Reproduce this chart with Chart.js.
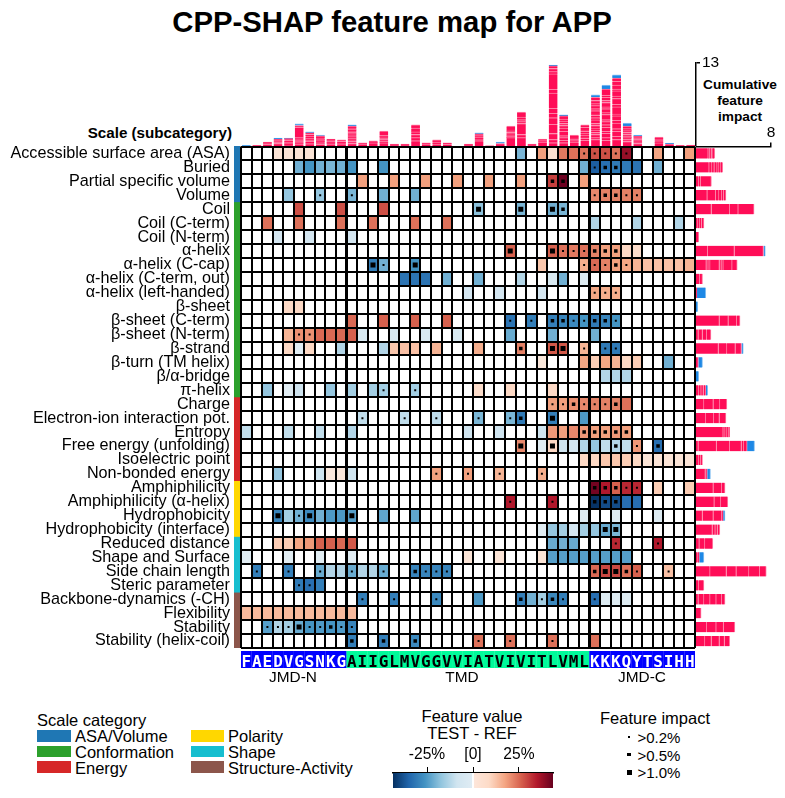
<!DOCTYPE html>
<html>
<head>
<meta charset="utf-8">
<title>CPP-SHAP feature map for APP</title>
<script src="https://cdn.jsdelivr.net/npm/chart.js@4/dist/chart.umd.min.js"></script>
<style>
  html, body { margin: 0; padding: 0; background: #fff; }
  body { position: relative; width: 785px; height: 798px; overflow: hidden; font-family: 'Liberation Sans', Arial, sans-serif; color: #000; }
  canvas { position: absolute; display: block; }
  .txt { position: absolute; white-space: nowrap; line-height: 1; font-size: 16.5px; }
  .mid { transform: translate(-50%, -50%); }
  .left { transform: translateY(-50%); }
  .swatch, .dot { position: absolute; }
  .dot { background: #000; }
</style>
</head>
<body>
<div class="txt mid" style="left:392px;top:22px;font-size:29.3px;font-weight:bold">CPP-SHAP feature map for APP</div>
<div class="txt" style="right:553px;top:125px;font-size:15.2px;font-weight:bold">Scale (subcategory)</div>
<div class="txt mid" style="left:740px;top:85px;font-size:13.7px;font-weight:bold">Cumulative</div>
<div class="txt mid" style="left:740px;top:101px;font-size:13.7px;font-weight:bold">feature</div>
<div class="txt mid" style="left:740px;top:117px;font-size:13.7px;font-weight:bold">impact</div>

<canvas id="topChart" width="544" height="96" style="left:241px;top:50px"></canvas>
<canvas id="rightChart" width="89" height="528" style="left:696px;top:120px"></canvas>
<canvas id="stripChart" width="6" height="502" style="left:234px;top:146px"></canvas>
<canvas id="heatChart" width="700" height="515" style="left:0;top:140px"></canvas>
<canvas id="seqChart" width="454" height="17" style="left:241px;top:651px"></canvas>
<canvas id="barChart" width="176" height="45" style="left:385px;top:745px"></canvas>

<div class="txt mid" style="left:293px;top:677px;font-size:15.4px">JMD-N</div>
<div class="txt mid" style="left:462px;top:677px;font-size:15.4px">TMD</div>
<div class="txt mid" style="left:642px;top:677px;font-size:15.4px">JMD-C</div>

<div id="catLegend"></div>
<div class="txt left" style="left:37px;top:720px">Scale category</div>

<div class="txt mid" style="left:472px;top:716px">Feature value</div>
<div class="txt mid" style="left:472px;top:733px">TEST - REF</div>

<div class="txt mid" style="left:655px;top:718px">Feature impact</div>
<div id="impactLegend"></div>

<script>
//Secuencia de APP dividida en sus tres dominios
const residues = 'FAEDVGSNKGAIIGLMVGGVVIATVIVITLVMLKKKQYTSIHH'.split('');
const domainNames = ['JMD-N', 'TMD', 'JMD-C'];
const domainSizes = [10, 23, 10];

//Subcategorias de las escalas, de arriba hacia abajo
const scaleNames = [
  'Accessible surface area (ASA)', 'Buried', 'Partial specific volume', 'Volume',
  'Coil', 'Coil (C-term)', 'Coil (N-term)', 'α-helix', 'α-helix (C-cap)',
  'α-helix (C-term, out)', 'α-helix (left-handed)', 'β-sheet', 'β-sheet (C-term)',
  'β-sheet (N-term)', 'β-strand', 'β-turn (TM helix)', 'β/α-bridge', 'π-helix',
  'Charge', 'Electron-ion interaction pot.', 'Entropy', 'Free energy (unfolding)',
  'Isoelectric point', 'Non-bonded energy', 'Amphiphilicity', 'Amphiphilicity (α-helix)',
  'Hydrophobicity', 'Hydrophobicity (interface)', 'Reduced distance', 'Shape and Surface',
  'Side chain length', 'Steric parameter', 'Backbone-dynamics (-CH)', 'Flexibility',
  'Stability', 'Stability (helix-coil)'
];

//Categorias y cuantas subcategorias tiene cada una
const categoryNames = ['ASA/Volume', 'Conformation', 'Energy', 'Polarity', 'Shape', 'Structure-Activity'];
const categorySizes = [4, 14, 6, 4, 4, 4];
const categoryColors = ['#1f77b4', '#2ca02c', '#d62728', '#ffd700', '#17becf', '#8c564b'];

//Valor de cada celda por fila: [residuo, valor %, nivel de impacto]
const featureValues = [
  [[4,6],[5,6],[6,6],[7,6],[27,-20],[29,18],[30,7],[31,23],[32,24],[33,24,1],[34,28,1],[35,28,1],[36,24,1],[37,38,1],[40,17],[43,18]],
  [[6,-21],[7,-26],[8,-21],[9,-20],[10,-21],[11,-26],[14,-26],[33,-21],[34,-36,1],[35,-33,2],[36,-31,2],[37,-31],[38,-32],[40,-21]],
  [[12,18],[15,18],[18,18],[21,18],[24,18],[27,18],[30,30,2],[31,43,2],[33,18]],
  [[5,-17],[8,-17,1],[11,-20,1],[14,-21],[17,-21],[34,21,1],[35,22,2],[36,22,2],[37,22,1],[38,22,1]],
  [[6,28],[10,28],[14,28],[23,-18,3],[27,-20,3],[30,-21,3],[31,-20,2]],
  [[3,24],[6,24],[10,24],[13,24],[17,24],[20,24],[34,-13],[38,-13],[42,-13]],
  [[4,-8],[7,-8],[11,-8]],
  [[26,26,3],[30,26,3],[31,24,1],[32,23,1],[33,24,1],[34,22,2],[35,18,2],[36,18,2],[37,9],[38,8]],
  [[13,-30,3],[14,-21,1],[17,-26,3],[29,12],[33,16,1],[34,25,1],[35,22,1],[36,18,2],[37,17,1],[38,15],[39,13],[40,13],[41,13],[42,13],[43,15]],
  [[16,-32],[17,-32],[18,-32],[20,-21],[23,-21],[27,-13],[30,-7],[31,-21],[33,-6]],
  [[22,-8],[25,-8],[29,-8],[34,17,1],[35,16,1],[36,16,1]],
  [[5,9],[6,9]],
  [[11,25],[14,26],[17,26],[20,26],[26,-32,1],[28,-30,1],[30,-30,2],[31,-29,2],[32,-28,1],[33,-26,1],[34,-31,2],[35,-29,2],[36,-26,1]],
  [[5,15],[6,20,1],[7,20,1],[8,25],[9,25],[10,25],[11,26],[12,-7],[15,-7],[18,-7],[21,-7],[26,-22],[30,-21],[34,-21]],
  [[5,9],[6,-5],[7,9],[10,-13],[14,-13],[15,12],[16,13],[17,13],[19,15],[23,16],[27,22,2],[30,27,3],[31,27,3],[33,15,1],[35,-31,1],[36,-31,1]],
  [[29,5],[33,17],[34,11],[35,17],[36,15],[37,9],[38,11],[41,-21]],
  [[35,-13],[36,-13],[37,-13]],
  [[3,-17],[5,-5],[6,-9],[9,-17],[11,-15],[13,-15],[14,-15,1],[17,-15,1],[23,8],[26,9],[30,9]],
  [[30,18,1],[31,18,1],[32,20,2],[33,21,1],[34,22,1],[35,22,1],[36,22,2],[37,24]],
  [[12,-11,1],[16,-11,1],[19,-11,1],[23,-20,1],[26,-20,1],[27,-31,2],[30,-30,3],[33,-25]],
  [[1,-11],[5,-11],[8,-11],[11,-13],[22,-9],[25,-9],[29,-9],[30,19],[31,18],[32,21],[33,19,2],[34,18,2],[35,18,2],[36,19,2],[37,18,2]],
  [[27,21,3],[29,-5],[30,9,3],[31,-9],[32,-8],[33,-13],[34,-17],[35,-11],[36,-13,2],[37,-11],[38,19,1],[40,-33,2]],
  [[33,9],[34,9],[35,12],[36,12],[37,11],[38,9],[39,6],[40,6],[41,6],[42,6],[43,6]],
  [[4,-17],[8,-9],[9,5],[10,5],[11,-9],[19,18,1],[22,18,1],[25,15,1],[29,16,1]],
  [[34,42,2],[35,35,2],[36,26,2],[37,33,1],[38,33,1],[40,11],[43,11]],
  [[26,35,1],[30,35,1],[34,-43,2],[35,-39,2],[36,-39,2],[37,-33],[38,-33]],
  [[4,-29,3],[5,-15],[6,-21,1],[7,-28,3],[8,-21],[9,-25],[10,-25],[11,-24,3],[14,-23],[17,-23],[33,-6],[36,-6],[40,-6]],
  [[29,-5],[30,-17],[31,-15],[32,-8],[33,-15],[34,-17],[35,-22,3],[36,-20,3]],
  [[4,11],[5,11],[6,17],[7,19],[8,26],[9,26],[10,25],[11,27],[30,-22],[31,-21],[32,-22],[36,33,1],[40,35,1]],
  [[1,-5],[5,-5],[8,-5],[11,-5],[22,6],[25,6],[29,6],[30,-24],[31,-24],[32,-24],[33,-24],[34,-24],[35,-24],[36,-24],[37,-24]],
  [[2,-30,1],[5,-30,1],[8,-22,1],[9,-13],[10,-13],[11,-22,1],[12,-13],[13,-13],[14,-22,1],[17,-29,2],[18,-29,1],[19,-29,1],[20,-29,1],[34,25,2],[35,29,3],[36,29,3],[37,24,2],[38,26,1],[41,13,1]],
  [[6,-31,1],[7,-33,1],[8,-30]],
  [[12,-30,1],[15,-30,1],[19,-28,1],[23,-25],[27,-30,2],[28,-21],[29,-15,1],[30,-28,2],[31,-30,1],[34,-33,1],[35,-6],[36,-6],[37,-6]],
  [[1,14],[2,14],[3,14],[4,14],[5,14],[6,14],[7,14],[8,14],[9,14],[10,14],[11,14]],
  [[3,-24,1],[4,-13,1],[5,-15,1],[6,-22,3],[7,-26,1],[8,-25,1],[9,-26,2],[10,-25,1],[11,-29,1]],
  [[11,-30,2],[14,-30,2],[17,-28,2],[23,24,1],[26,24,1],[30,24,1],[34,24]]
];

//Impacto positivo acumulado por residuo, cada numero es un tramo de la barra
const topSegments = [
  [], [.1], [.25,.2,.15], [.4,.15,.2,.1,.2], [.15,.2,.15,.1,.3,.15,.1],
  [.3,.2,.25,.1,.2,.25,1.6,.3], [.35,.4,.1,.3,.4,.25,.25], [.25,.1,.3,.15,.2,.25,.2,.15],
  [.3,.2,.2,.2,.2], [.2,.25,.25,.25], [.4,.3,.2,.25,.3,.25,.2,.2,.25,.2,.25,.3],
  [.3,.2], [.5,.3], [.5,.2,.3,.2,.25,.2,.7], [.15,.15], [.15,.15], [.8,.5,.5,.4,.6,.5],
  [.3,.2], [.3,.3,.35], [.25,.25], [], [.15,.15], [.8,.3,.25,.25,.3], [.05], [.4],
  [1.3,.2,.2,.2,.2,.2,.2,.6], [1.3,.5,1.7,.3,.3,.4,.8], [.15,.15], [.6,.2,.3],
  [.5,.5,.95,1.45,1,.7,.8,2.35,.6,2.4,.35,.5,.4], [.5,.4,.4,.3,.7,.5,.4,.3,.4,.3,.5],
  [.6,.2,.25,.2,.45], [.9,.3,.2,.3,.3,.3,.2,.4,.4],
  [1,.3,.5,.3,.4,.2,.5,.3,.6,.3,.4,.2,.5,.3,.5,.3,.5,.5],
  [.9,.4,.7,.3,.6,.4,.5,.3,.8,.3,.6,.3,.7,.3,.5,.3,1],
  [1,.5,.8,.4,.9,.4,.7,.3,1.1,.4,.9,.4,.8,.3,.6,.6,.5],
  [.7,.3,.3,.2,.3,.3,.3,.3,.4], [.4,.2,.2,.2,.2,.15,.15], [], [.5,.3,.3,.3], [.3], [.1], [.15]
];
//Impacto negativo acumulado por residuo
const topNegative = [.1,0,0,.2,.1,.25,.15,.1,0,0,.2,0,0,0,0,0,0,0,0,0,0,0,.15,0,.2,0,0,0,0,.15,.15,0,0,.4,.6,.5,.5,.2,0,0,.15,0,0];

//Impacto positivo acumulado por escala
const rightSegments = [
  [1.3,.15,.2,.15,.2], [1.4,.3,.25,.3,.2,.2,.2], [.3,.2,1.15], [1.2,.9,.35,.3,.2,.25],
  [1.65,1.95,.9,1.7], [.2,.2,.2,.25], [.3], [1.25,2.85,3.1], [1.1,.2,.2,1,.2,.2,.95,.55],
  [.4,.3], [.1], [], [2.5,.95,.9,.35], [.25,.45,.45,.45], [2.4,.9,.9,.65], [.25], [],
  [.3,.25,.25,.25], [.85,1,.7,.75], [1.05,.85,.6,.7], [2.9,.2,.2,.15,.15],
  [.25,1.95,1.4,1.25,.25,.35], [.3,.2,.2], [1,.2], [1.85,.9,.35], [1.95,.7,.75],
  [.7,1.15,.9,.15], [1.75,.3,.25,.25], [.35,.6,.85], [.2,.15], [1.5,1.75,1.05,1.35,1.15,.7],
  [.3,.55], [.25,.6,.65,.65,.6,.35], [.55], [1.15,1,.8,1.2], [.95,.7,.85,.55,.55]
];
//Impacto negativo acumulado por escala
const rightNegative = [0,0,0,0,0,0,0,.2,0,0,.95,.2,0,0,.2,.45,.3,.2,0,0,0,.8,0,.35,0,0,.2,0,0,.5,0,0,0,0,0,0];

//Ticks y leyendas
const topAxisTicks = [13];
const rightAxisTicks = [8];
const valueTicks = [-25, 0, 25];
const valueLimit = 43.5;
const impactLabels = ['>0.2%', '>0.5%', '>1.0%'];
const impactDotSizes = [2, 3.5, 5];

//Mapa de color RdBu invertido, de -valueLimit a +valueLimit
const colorStops = ['#053061', '#2166ac', '#4393c3', '#92c5de', '#d1e5f0', '#f7f7f7', '#fddbc7', '#f4a582', '#d6604d', '#b2182b', '#67001f'];

const SHAP_RED = '#ff0d57';
const SHAP_RED_PALE = '#ff7fa5';
const SHAP_BLUE = '#1e88e5';
const SHAP_BLUE_PALE = '#8cc4f2';

Chart.defaults.font.family = "'Liberation Sans', Arial, sans-serif";
Chart.defaults.color = '#000';
Chart.defaults.animation = false;
Chart.defaults.responsive = false;
Chart.defaults.events = [];
Chart.defaults.plugins.legend.display = false;
Chart.defaults.plugins.tooltip.enabled = false;

function hexToRgb(hex) {
  return [1, 3, 5].map(function (i) { return parseInt(hex.substr(i, 2), 16); });
}

//Color interpolado para un valor en %
function valueColor(value) {
  var t = (Math.max(-valueLimit, Math.min(valueLimit, value)) + valueLimit) / (2 * valueLimit) * (colorStops.length - 1);
  var i = Math.min(Math.floor(t), colorStops.length - 2);
  var a = hexToRgb(colorStops[i]);
  var b = hexToRgb(colorStops[i + 1]);
  var c = a.map(function (v, j) { return Math.round(v + (b[j] - v) * (t - i)); });
  return 'rgb(' + c.join(',') + ')';
}

//Quita el margen que Chart.js reserva para la mitad de la primera y ultima etiqueta
function noPadding(scale) {
  scale.paddingTop = 0;
  scale.paddingBottom = 0;
  scale.paddingLeft = 0;
  scale.paddingRight = 0;
}

//Fuerza el tamano reservado por un eje
function fixedWidth(size) { return function (scale) { scale.width = size; noPadding(scale); }; }
function fixedHeight(size) { return function (scale) { scale.height = size; noPadding(scale); }; }
function onlyTicks(values) {
  return function (scale) { scale.ticks = values.map(function (v) { return { value: v }; }); };
}

//Mapa de calor: una barra flotante por celda y un cuadrado negro segun el impacto
var cells = [];
var cellColors = [];
var dots = [];
var dotRadius = [];
featureValues.forEach(function (row, r) {
  row.forEach(function (cell) {
    cells.push({ x: cell[0] - 0.5, y: [r, r + 1] });
    cellColors.push(valueColor(cell[1]));
    if (cell[2]) {
      dots.push({ x: cell[0] - 0.5, y: r + 0.5 });
      dotRadius.push(impactDotSizes[cell[2] - 1] * Math.SQRT1_2);
    }
  });
});

//Lineas gruesas en los limites de la TMD
var domainEdges = [domainSizes[0], domainSizes[0] + domainSizes[1]];

new Chart(document.getElementById('heatChart'), {
  data: {
    datasets: [{
      type: 'bar',
      data: cells,
      backgroundColor: cellColors,
      barThickness: 454 / residues.length,
      order: 2
    }, {
      type: 'scatter',
      data: dots,
      pointStyle: 'rect',
      pointRadius: dotRadius,
      pointBackgroundColor: '#000',
      pointBorderWidth: 0,
      order: 1
    }]
  },
  options: {
    layout: { padding: { top: 6.5, bottom: 7, right: 5 } },
    scales: {
      x: {
        type: 'linear', min: 0, max: residues.length, position: 'bottom', offset: false,
        afterFit: fixedHeight(0),
        ticks: { display: false, stepSize: 1, autoSkip: false },
        border: { display: false },
        grid: {
          z: 1, color: '#000', drawTicks: false, offset: false,
          lineWidth: function (ctx) { return ctx.tick && domainEdges.indexOf(ctx.tick.value) >= 0 ? 3 : 2; }
        }
      },
      y: {
        type: 'linear', min: 0, max: scaleNames.length, reverse: true, position: 'left',
        afterFit: fixedWidth(0),
        ticks: { display: false, stepSize: 1, autoSkip: false },
        border: { display: false },
        grid: { z: 1, color: '#000', lineWidth: 2, drawTicks: false }
      },
      yNames: {
        type: 'category', labels: scaleNames, offset: true, position: 'left',
        afterFit: fixedWidth(241),
        border: { display: false },
        grid: { display: false, drawTicks: false },
        ticks: { autoSkip: false, padding: 11, font: { size: 16.2 }, color: '#000' }
      }
    }
  }
});

//Franja de color de las categorias
new Chart(document.getElementById('stripChart'), {
  type: 'bar',
  data: {
    labels: [''],
    datasets: categorySizes.map(function (n, i) {
      return { data: [n], backgroundColor: categoryColors[i], barPercentage: 1, categoryPercentage: 1 };
    })
  },
  options: {
    layout: { padding: 0 },
    scales: {
      x: { display: false, stacked: true },
      y: { display: false, stacked: true, reverse: true, min: 0, max: scaleNames.length }
    }
  }
});

//Tramos apilados: cada tramo se separa con un borde claro
function stackedSegments(segments, negative, edge, wide) {
  var depth = Math.max.apply(null, segments.map(function (s) { return s.length; }));
  var sets = [];
  for (var j = 0; j < depth; j++) {
    sets.push({
      data: segments.map(function (s) { return s[j] || null; }),
      backgroundColor: SHAP_RED,
      borderColor: SHAP_RED_PALE,
      borderWidth: edge,
      borderSkipped: false,
      inflateAmount: 0.3,
      barPercentage: wide,
      categoryPercentage: 1
    });
  }
  sets.push({
    data: negative.map(function (v) { return v || null; }),
    backgroundColor: SHAP_BLUE,
    borderColor: SHAP_BLUE_PALE,
    borderWidth: edge,
    borderSkipped: false,
    inflateAmount: 0.3,
    barPercentage: wide,
    categoryPercentage: 1
  });
  return sets;
}

//Barras de arriba: impacto acumulado por residuo
new Chart(document.getElementById('topChart'), {
  type: 'bar',
  data: { labels: residues, datasets: stackedSegments(topSegments, topNegative, { top: 1 }, 0.82) },
  options: {
    layout: { padding: { top: 12.7 } },
    scales: {
      x: { display: false, stacked: true },
      y: {
        stacked: true, position: 'right', min: 0, max: 13,
        afterBuildTicks: onlyTicks(topAxisTicks),
        afterFit: fixedWidth(89),
        border: { color: '#000', width: 1.5 },
        grid: { drawOnChartArea: false, color: '#000', lineWidth: 1.5, tickLength: 4 },
        ticks: { font: { size: 15.5 }, padding: 2, color: '#000' }
      }
    }
  }
});

//Barras de la derecha: impacto acumulado por escala
new Chart(document.getElementById('rightChart'), {
  type: 'bar',
  data: { labels: scaleNames, datasets: stackedSegments(rightSegments, rightNegative, { right: 1 }, 0.74) },
  options: {
    indexAxis: 'y',
    layout: { padding: { right: 14 } },
    scales: {
      y: { display: false, stacked: true },
      x: {
        stacked: true, position: 'top', min: 0, max: 8,
        afterBuildTicks: onlyTicks(rightAxisTicks),
        afterFit: fixedHeight(26.5),
        border: { color: '#000', width: 1.5 },
        grid: { drawOnChartArea: false, color: '#000', lineWidth: 1.5, tickLength: 4 },
        ticks: { font: { size: 15.5 }, padding: 0, color: '#000', maxRotation: 0 }
      }
    }
  }
});

//Banda con la secuencia, los JMD en azul y la TMD en verde
function isTmd(i) { return i >= domainEdges[0] && i < domainEdges[1]; }

new Chart(document.getElementById('seqChart'), {
  type: 'bar',
  data: {
    labels: residues,
    datasets: [{
      data: residues.map(function () { return 1; }),
      backgroundColor: residues.map(function (r, i) { return isTmd(i) ? '#00fa9a' : '#0000ff'; }),
      barPercentage: 1.02,
      categoryPercentage: 1
    }]
  },
  options: {
    layout: { padding: 0 },
    scales: {
      y: { display: false, min: 0, max: 1 },
      x: {
        afterFit: fixedHeight(0),
        border: { display: false },
        grid: { display: false, drawTicks: false },
        ticks: {
          z: 1, autoSkip: false, maxRotation: 0, mirror: true, padding: -4,
          font: { family: "'DejaVu Sans Mono', monospace", weight: 'bold', size: 16 },
          color: function (ctx) { return isTmd(ctx.index) ? '#000' : '#fff'; }
        }
      }
    }
  }
});

//Barra de color de Feature value
new Chart(document.getElementById('barChart'), {
  type: 'bar',
  data: {
    labels: [''],
    datasets: [{
      data: [[-valueLimit, valueLimit]],
      barPercentage: 1,
      categoryPercentage: 1,
      backgroundColor: function (ctx) {
        var area = ctx.chart.chartArea;
        if (!area) return '#fff';
        var g = ctx.chart.ctx.createLinearGradient(area.left, 0, area.right, 0);
        colorStops.forEach(function (c, i) {
          if (i !== 5) g.addColorStop(i / (colorStops.length - 1), c);
        });
        g.addColorStop(0.494, '#dfecf4');
        g.addColorStop(0.497, '#ffffff');
        g.addColorStop(0.503, '#ffffff');
        g.addColorStop(0.506, '#fde6da');
        return g;
      }
    }]
  },
  options: {
    indexAxis: 'y',
    layout: { padding: { left: 8, right: 8, bottom: 2 } },
    scales: {
      y: { display: false },
      x: {
        position: 'top', min: -valueLimit, max: valueLimit,
        afterBuildTicks: onlyTicks(valueTicks),
        afterFit: fixedHeight(28),
        border: { color: '#000', width: 1.5 },
        grid: { drawOnChartArea: false, color: '#000', lineWidth: 1, tickLength: 6 },
        ticks: {
          font: { size: 15.6 }, padding: 3, color: '#000', maxRotation: 0,
          callback: function (v) { return v === 0 ? '[0]' : v + '%'; }
        }
      }
    }
  }
});

//Leyendas en HTML
function addText(parent, text, x, y, size) {
  var el = document.createElement('div');
  el.className = 'txt left';
  el.style.left = x + 'px';
  el.style.top = y + 'px';
  el.style.fontSize = size + 'px';
  el.textContent = text;
  parent.appendChild(el);
}

var catLegend = document.getElementById('catLegend');
categoryNames.forEach(function (name, i) {
  var col = i < 3 ? 0 : 1;
  var row = i % 3;
  var sw = document.createElement('div');
  sw.className = 'swatch';
  sw.style.cssText = 'left:' + (col ? 191 : 37) + 'px;top:' + (730 + row * 15.7) + 'px;width:' + (col ? 33 : 34) + 'px;height:11.5px;background:' + categoryColors[i];
  catLegend.appendChild(sw);
  addText(catLegend, name, col ? 228 : 75, 736 + row * 15.8, 16.5);
});

var impactLegend = document.getElementById('impactLegend');
impactLabels.forEach(function (label, i) {
  var size = impactDotSizes[i];
  var y = 737 + i * 17.5;
  var d = document.createElement('div');
  d.className = 'dot';
  d.style.cssText = 'left:' + (629 - size / 2) + 'px;top:' + (y - size / 2) + 'px;width:' + size + 'px;height:' + size + 'px';
  impactLegend.appendChild(d);
  addText(impactLegend, label, 637.5, y, 15);
});
</script>
</body>
</html>
